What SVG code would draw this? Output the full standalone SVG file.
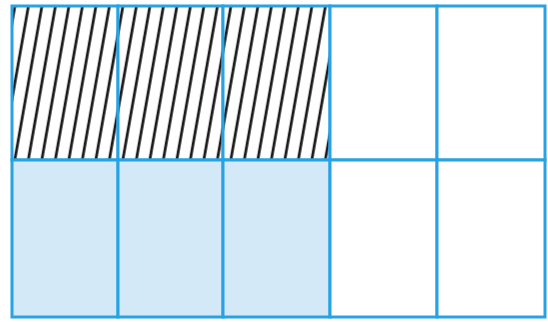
<svg xmlns="http://www.w3.org/2000/svg" width="548" height="322" viewBox="0 0 548 322">
<defs>
<pattern id="hatch" patternUnits="userSpaceOnUse" x="10" y="0" width="13.5" height="20" patternTransform="skewX(-10)">
<rect x="0" y="0" width="13.5" height="20" fill="#ffffff"/>
<line x1="6" y1="-2" x2="6" y2="22" stroke="#1a1a1a" stroke-width="2.8"/>
</pattern>
<style>
.cell{stroke:#27a2e2;stroke-width:3;}
.hatched{fill:url(#hatch);}
.shaded{fill:#d3e9f8;}
.blank{fill:#ffffff;}
</style>
</defs>
<rect x="0" y="0" width="548" height="322" fill="#ffffff"/>
<g id="top-row">
<rect id="c11" class="cell hatched" x="12" y="6" width="106" height="154"/>
<rect id="c12" class="cell hatched" x="118" y="6" width="105" height="154"/>
<rect id="c13" class="cell hatched" x="223" y="6" width="107" height="154"/>
<rect id="c14" class="cell blank" x="330" y="6" width="107" height="154"/>
<rect id="c15" class="cell blank" x="437" y="6" width="108" height="154"/>
</g>
<g id="bottom-row">
<rect id="c21" class="cell shaded" x="12" y="160" width="106" height="157"/>
<rect id="c22" class="cell shaded" x="118" y="160" width="105" height="157"/>
<rect id="c23" class="cell shaded" x="223" y="160" width="107" height="157"/>
<rect id="c24" class="cell blank" x="330" y="160" width="107" height="157"/>
<rect id="c25" class="cell blank" x="437" y="160" width="108" height="157"/>
</g>
<g id="connectors"></g>
</svg>
